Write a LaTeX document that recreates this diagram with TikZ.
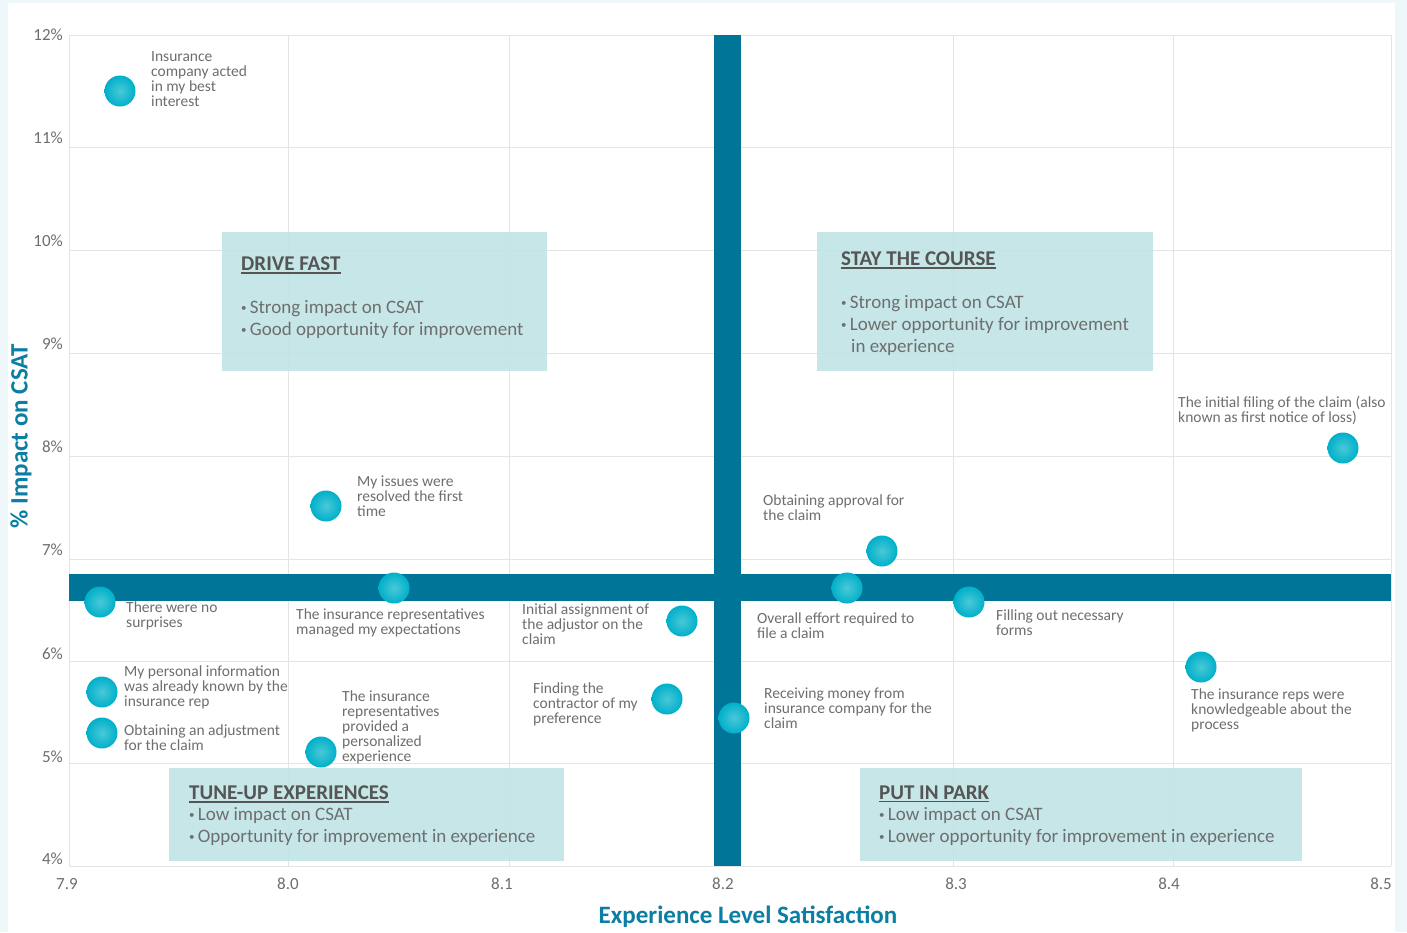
\documentclass[tikz,border=0pt]{standalone}
\usepackage{fontspec}
\setmainfont{Carlito}
\usepackage{tikz}

\definecolor{panelbg}{HTML}{EEF7FA}
\definecolor{gridgray}{HTML}{E4E4E4}
\definecolor{bardark}{HTML}{007597}
\definecolor{dotcyan}{HTML}{00B0CA}
\definecolor{dotlight}{HTML}{4AC8D7}
\definecolor{boxfill}{HTML}{C0E4E6}
\definecolor{labelgray}{HTML}{6E6E6E}
\definecolor{titlegray}{HTML}{555555}
\definecolor{axisblue}{HTML}{0A7EA3}

\newcommand{\quadtitle}[1]{{\color{titlegray}\bfseries\fontsize{21}{22}\selectfont
  \setbox0\hbox{#1}\rlap{\rule[-2.6pt]{\wd0}{1.6pt}}\box0}}
\newcommand{\quadbullet}{\raisebox{2.2pt}{\fontsize{11}{11}\selectfont\textbullet}\,}

\begin{document}
\begin{tikzpicture}[x=1pt,y=1pt,
  dot/.style={circle,minimum size=31pt,inner color=dotlight,outer color=dotcyan},
  pointlabel/.style={anchor=north west,align=left,text=labelgray,font=\fontsize{15.5}{15}\selectfont},
  quadbox/.style={anchor=north west,fill=boxfill,fill opacity=0.9},
  quadtext/.style={anchor=north west,align=left,text=labelgray,font=\fontsize{19}{22}\selectfont},
  ticklabel/.style={text=labelgray,font=\fontsize{17}{17}\selectfont},
  axistitle/.style={text=axisblue,font=\bfseries\fontsize{25}{25}\selectfont}]
\tikzstyle{every node}+=[inner sep=0pt]
\useasboundingbox (0,0) rectangle (1407,-932);
\fill [panelbg] (0,0) rectangle (1407,-932);
\fill [white] (8,-3) rectangle (1395,-932);
% grid
\draw [gridgray,line width=1pt] (69,-35) -- (1391,-35);
\draw [gridgray,line width=1pt] (69,-147) -- (1391,-147);
\draw [gridgray,line width=1pt] (69,-250) -- (1391,-250);
\draw [gridgray,line width=1pt] (69,-353) -- (1391,-353);
\draw [gridgray,line width=1pt] (69,-456) -- (1391,-456);
\draw [gridgray,line width=1pt] (69,-559) -- (1391,-559);
\draw [gridgray,line width=1pt] (69,-661) -- (1391,-661);
\draw [gridgray,line width=1pt] (69,-763) -- (1391,-763);
\draw [gridgray,line width=1pt] (69,-866) -- (1391,-866);
\draw [gridgray,line width=1pt] (69,-35) -- (69,-866);
\draw [gridgray,line width=1pt] (288,-35) -- (288,-866);
\draw [gridgray,line width=1pt] (509,-35) -- (509,-866);
\draw [gridgray,line width=1pt] (953,-35) -- (953,-866);
\draw [gridgray,line width=1pt] (1173,-35) -- (1173,-866);
\draw [gridgray,line width=1pt] (1391,-35) -- (1391,-866);
% tick labels
\node [ticklabel,anchor=east] (y12) at (63,-35) {12\%};
\node [ticklabel,anchor=east] (y11) at (63,-138) {11\%};
\node [ticklabel,anchor=east] (y10) at (63,-241) {10\%};
\node [ticklabel,anchor=east] (y9) at (63,-344) {9\%};
\node [ticklabel,anchor=east] (y8) at (63,-447) {8\%};
\node [ticklabel,anchor=east] (y7) at (63,-550) {7\%};
\node [ticklabel,anchor=east] (y6) at (63,-654) {6\%};
\node [ticklabel,anchor=east] (y5) at (63,-757) {5\%};
\node [ticklabel,anchor=east] (y4) at (63,-859) {4\%};
\node [ticklabel] (x79) at (67,-884) {7.9};
\node [ticklabel] (x80) at (288,-884) {8.0};
\node [ticklabel] (x81) at (502,-884) {8.1};
\node [ticklabel] (x82) at (723,-884) {8.2};
\node [ticklabel] (x83) at (956,-884) {8.3};
\node [ticklabel] (x84) at (1169,-884) {8.4};
\node [ticklabel] (x85) at (1381,-884) {8.5};
\node [axistitle] (xtitle) at (748,-917) {Experience Level Satisfaction};
\node [axistitle,rotate=90] (ytitle) at (21,-436) {\% Impact on CSAT};
% quadrant bars
\fill [bardark] (714,-35) rectangle (741,-866);
\fill [bardark] (69,-574) rectangle (1391,-601);
% quadrant boxes
\node [quadbox,minimum width=325pt,minimum height=139pt] (drivefast) at (222,-232) {};
\node [quadtext] (drivetext) at (241,-257) {\quadtitle{DRIVE FAST}\\[21pt]
  \quadbullet Strong impact on CSAT\\ \quadbullet Good opportunity for improvement};
\node [quadbox,minimum width=336pt,minimum height=139pt] (staycourse) at (817,-232) {};
\node [quadtext] (staytext) at (841,-252) {\quadtitle{STAY THE COURSE}\\[21pt]
  \quadbullet Strong impact on CSAT\\ \quadbullet Lower opportunity for improvement\\
  \hspace*{10pt}in experience};
\node [quadbox,minimum width=395pt,minimum height=93pt] (tuneup) at (169,-768) {};
\node [quadtext] (tunetext) at (189,-786) {\quadtitle{TUNE-UP EXPERIENCES}\\[-1pt]
  \quadbullet Low impact on CSAT\\ \quadbullet Opportunity for improvement in experience};
\node [quadbox,minimum width=442pt,minimum height=93pt] (putpark) at (860,-768) {};
\node [quadtext] (parktext) at (879,-786) {\quadtitle{PUT IN PARK}\\[-1pt]
  \quadbullet Low impact on CSAT\\ \quadbullet Lower opportunity for improvement in experience};
% data points
\node [dot] (p1) at (120,-91) {};
\node [dot] (p2) at (326,-506) {};
\node [dot] (p3) at (882,-551) {};
\node [dot] (p4) at (1343,-448) {};
\node [dot] (p5) at (100,-602) {};
\node [dot] (p6) at (394,-588) {};
\node [dot] (p7) at (682,-621) {};
\node [dot] (p8) at (847,-588) {};
\node [dot] (p9) at (969,-602) {};
\node [dot] (p10) at (102,-692) {};
\node [dot] (p11) at (102,-733) {};
\node [dot] (p12) at (321,-752) {};
\node [dot] (p13) at (667,-699) {};
\node [dot] (p14) at (734,-718) {};
\node [dot] (p15) at (1201,-667) {};
% point labels
\node [pointlabel] (t1) at (151,-51) {Insurance\\company acted\\in my best\\interest};
\node [pointlabel] (t2) at (357,-476) {My issues were\\resolved the first\\time};
\node [pointlabel] (t3) at (763,-495) {Obtaining approval for\\the claim};
\node [pointlabel] (t4) at (1178,-396) {The initial filing of the claim (also\\known as first notice of loss)};
\node [pointlabel] (t5) at (126,-602) {There were no\\surprises};
\node [pointlabel] (t6) at (296,-609) {The insurance representatives\\managed my expectations};
\node [pointlabel] (t7) at (522,-604) {Initial assignment of\\the adjustor on the\\claim};
\node [pointlabel] (t8) at (757,-613) {Overall effort required to\\file a claim};
\node [pointlabel] (t9) at (996,-610) {Filling out necessary\\forms};
\node [pointlabel] (t10) at (124,-666) {My personal information\\was already known by the\\insurance rep};
\node [pointlabel] (t11) at (124,-725) {Obtaining an adjustment\\for the claim};
\node [pointlabel] (t12) at (342,-691) {The insurance\\representatives\\provided a\\personalized\\experience};
\node [pointlabel] (t13) at (533,-683) {Finding the\\contractor of my\\preference};
\node [pointlabel] (t14) at (764,-688) {Receiving money from\\insurance company for the\\claim};
\node [pointlabel] (t15) at (1191,-689) {The insurance reps were\\knowledgeable about the\\process};
\end{tikzpicture}
\end{document}
